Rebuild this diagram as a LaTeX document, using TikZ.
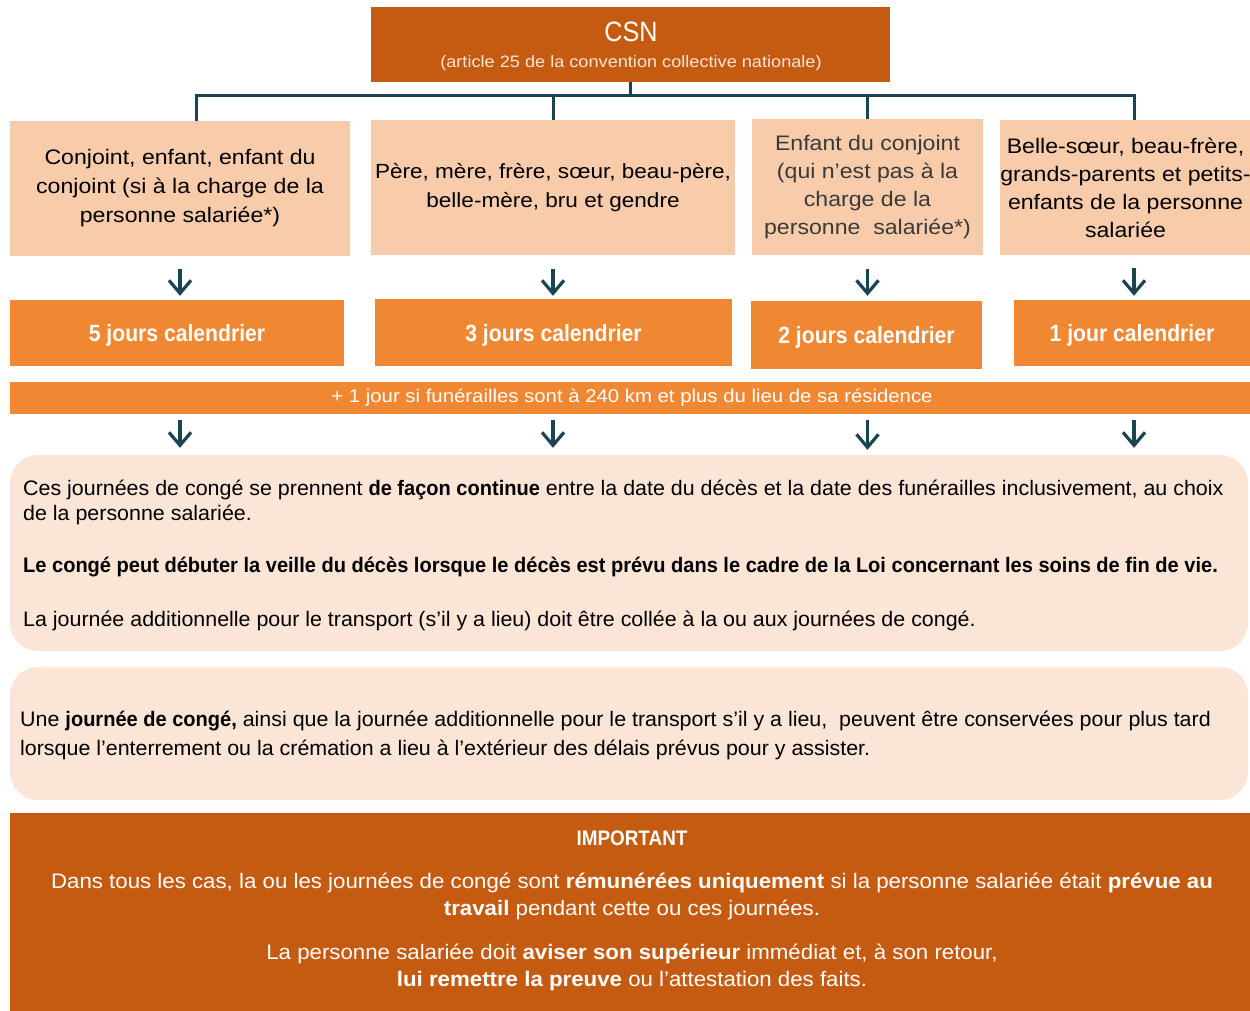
\documentclass[tikz,border=0pt]{standalone}
\usepackage{fontspec}
\setmainfont{Liberation Sans}
\newfontfamily\widefont[FakeStretch=1.1]{Liberation Sans}
\newfontfamily\condfont[FakeStretch=0.9]{Liberation Sans}
\newfontfamily\notefont[FakeStretch=1.02, BoldFeatures={FakeStretch=0.954}]{Liberation Sans}
\newfontfamily\impfont[FakeStretch=1.06]{Liberation Sans}
\usetikzlibrary{arrows.meta}
\definecolor{dkorange}{HTML}{C55A11}
\definecolor{midorange}{HTML}{F08833}
\definecolor{peach}{HTML}{F8CBAA}
\definecolor{cream}{HTML}{FBE5D6}
\definecolor{linecol}{HTML}{1A4451}
\definecolor{txtgray}{HTML}{3A3A3A}
\tikzset{
  darkbox/.style={fill=dkorange, draw=none, inner sep=0pt},
  peachbox/.style={fill=peach, draw=none, inner sep=0pt, align=center, text=black,
    font=\widefont\fontsize{21}{29}\selectfont},
  daybox/.style={fill=midorange, draw=none, inner sep=0pt, text=white, text depth=0pt,
    font=\condfont\bfseries\fontsize{23.5}{28}\selectfont},
  notebox/.style={fill=cream, draw=none, inner sep=0pt, rounded corners=28pt},
  notetext/.style={inner sep=0pt, anchor=base west, align=left, text=black,
    font=\notefont\fontsize{21}{25}\selectfont},
  imptext/.style={inner sep=0pt, anchor=base, align=center, text=white,
    font=\impfont\fontsize{21}{27}\selectfont},
  conn/.style={draw=linecol, line width=3pt},
  arr/.style={draw=linecol, line width=3.2pt, -{Straight Barb[length=13pt,width=22pt]}}
}
\begin{document}
\begin{tikzpicture}[x=1pt,y=-1pt]
\useasboundingbox (0,0) rectangle (1250,1011);
% top box
\node[darkbox, minimum width=519, minimum height=75] (csn) at (630.5,44.5) {};
\node[inner sep=0pt, anchor=base, text=white, font=\condfont\fontsize{28}{30}\selectfont] (csnt) at (631,42) {CSN};
\node[inner sep=0pt, anchor=base, text=cream, font=\widefont\fontsize{16.5}{18}\selectfont] (csns) at (631,68) {(article 25 de la convention collective nationale)};
% category boxes
\node[peachbox, minimum width=340, minimum height=135] (b1) at (180,188.5) {Conjoint, enfant, enfant du\\conjoint (si à la charge de la\\personne salariée*)};
\node[peachbox, minimum width=364, minimum height=134, font=\widefont\fontsize{20.5}{29}\selectfont] (b2) at (553,187.5) {Père, mère, frère, sœur, beau-père,\\belle-mère, bru et gendre};
\node[peachbox, minimum width=231, minimum height=135, text=txtgray, font=\widefont\fontsize{21}{28}\selectfont] (b3) at (867.5,187) {Enfant du conjoint\\(qui n’est pas à la\\charge de la\\personne\ \ salariée*)};
\node[peachbox, minimum width=249, minimum height=135, font=\widefont\fontsize{21}{28}\selectfont] (b4) at (1125.5,187.5) {Belle-sœur, beau-frère,\\grands-parents et petits-\\enfants de la personne\\salariée};
% day boxes
\node[daybox, minimum width=334, minimum height=66] (o1) at (177,333) {5 jours calendrier};
\node[daybox, minimum width=357, minimum height=67] (o2) at (553.5,332.5) {3 jours calendrier};
\node[daybox, minimum width=231, minimum height=68] (o3) at (866.5,335) {2 jours calendrier};
\node[daybox, minimum width=236, minimum height=66] (o4) at (1132,333) {1 jour calendrier};
% band
\node[fill=midorange, inner sep=0pt, minimum width=1240, minimum height=32] (band) at (630,398) {};
\node[inner sep=0pt, anchor=base, text=white, font=\widefont\fontsize{18.5}{20}\selectfont] (bandt) at (632,402) {+ 1 jour si funérailles sont à 240 km et plus du lieu de sa résidence};
% notes
\node[notebox, minimum width=1238, minimum height=196] (n1) at (629,553) {};
\node[notetext] (n1a) at (23,520) {Ces journées de congé se prennent \textbf{de façon continue} entre la date du décès et la date des funérailles inclusivement, au choix\\de la personne salariée.};
\node[notetext] (n1b) at (23,572) {\textbf{Le congé peut débuter la veille du décès lorsque le décès est prévu dans le cadre de la Loi concernant les soins de fin de vie.}};
\node[notetext] (n1c) at (23,626) {La journée additionnelle pour le transport (s’il y a lieu) doit être collée à la ou aux journées de congé.};
\node[notebox, minimum width=1238, minimum height=133] (n2) at (629,733.5) {};
\node[notetext, font=\notefont\fontsize{21}{29}\selectfont] (n2a) at (20,755) {Une \textbf{journée de congé,} ainsi que la journée additionnelle pour le transport s’il y a lieu,\ \ peuvent être conservées pour plus tard\\lorsque l’enterrement ou la crémation a lieu à l’extérieur des délais prévus pour y assister.};
% important
\node[darkbox, minimum width=1240, minimum height=198] (imp) at (630,912) {};
\node[imptext, font=\condfont\bfseries\fontsize{21}{24}\selectfont] (impa) at (632,845) {IMPORTANT};
\node[imptext] (impb) at (632,915) {Dans tous les cas, la ou les journées de congé sont \textbf{rémunérées uniquement} si la personne salariée était \textbf{prévue au}\\\textbf{travail} pendant cette ou ces journées.};
\node[imptext] (impc) at (632,986) {La personne salariée doit \textbf{aviser son supérieur} immédiat et, à son retour,\\\textbf{lui remettre la preuve} ou l’attestation des faits.};
% tree connectors
\coordinate (bus) at (631,96);
\draw[conn] (csn.south) -- (csn.south |- bus);
\draw[conn] ([xshift=16]b1.north) -- ([xshift=16]b1.north |- bus) -- ([xshift=8.5]b4.north |- bus) -- ([xshift=8.5]b4.north);
\draw[conn] (b2.north) -- (b2.north |- bus);
\draw[conn] (b3.north) -- (b3.north |- bus);
% arrows to day boxes
\draw[arr, shorten <=13pt, shorten >=4pt] (b1.south) -- (b1.south |- o1.north);
\draw[arr, shorten <=14pt, shorten >=3pt] (b2.south) -- (b2.south |- o2.north);
\draw[arr, shorten <=14pt, shorten >=5pt] (b3.south) -- (b3.south |- o3.north);
\draw[arr, shorten <=13pt, shorten >=4pt] ([xshift=8.5]b4.south) -- ([xshift=8.5]b4.south |- o4.north);
% arrows to note
\draw[arr, shorten <=6pt, shorten >=7pt] (b1.south |- band.south) -- (b1.south |- n1.north);
\draw[arr, shorten <=6pt, shorten >=7pt] (b2.south |- band.south) -- (b2.south |- n1.north);
\draw[arr, shorten <=6pt, shorten >=5pt] (b3.south |- band.south) -- (b3.south |- n1.north);
\draw[arr, shorten <=6pt, shorten >=7pt] ([xshift=8.5]b4.south |- band.south) -- ([xshift=8.5]b4.south |- n1.north);
\end{tikzpicture}
\end{document}
